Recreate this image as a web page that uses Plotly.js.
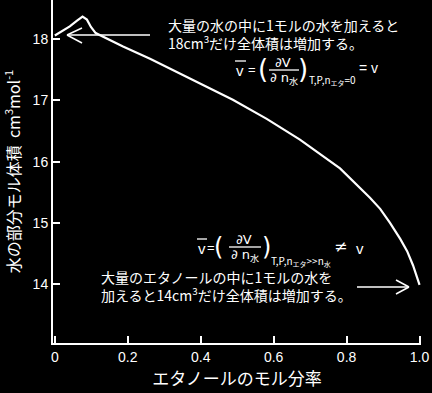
<!DOCTYPE html>
<html>
<head>
<meta charset="utf-8">
<script src="https://cdn.plot.ly/plotly-3.0.1.min.js"></script>
<style>html,body{margin:0;padding:0;background:#000;}#chart{width:432px;height:393px;}</style>
</head>
<body>
<div id="chart"></div>
<script>
// Data
const ethanolFraction = [0, 0.019, 0.041, 0.060, 0.076, 0.088, 0.099, 0.112, 0.187, 0.261, 0.329, 0.398, 0.453, 0.488, 0.581, 0.672, 0.782, 0.837, 0.864, 0.892, 0.919, 0.947, 0.966, 0.982, 0.992, 1.0];
const waterPartialVolume = [18.06, 18.13, 18.21, 18.30, 18.37, 18.32, 18.20, 18.10, 17.88, 17.68, 17.48, 17.28, 17.12, 17.01, 16.70, 16.36, 15.89, 15.57, 15.41, 15.23, 15.00, 14.74, 14.54, 14.31, 14.15, 13.99];
const xTickVals = [0, 0.2, 0.4, 0.6, 0.8, 1.0];
const xTickText = ["0", "0.2", "0.4", "0.6", "0.8", "1.0"];
const yTickVals = [14, 15, 16, 17, 18];
const yTickText = ["14", "15", "16", "17", "18"];

const L = 53, R = 421, T = 0, B = 343, W = 432, H = 393;
const px = (x) => (x - L) / (R - L);
const py = (y) => (B - y) / (B - T);

const JP = '"Noto Sans CJK JP", "Liberation Sans", sans-serif';
const SANS = '"Liberation Sans", Arial, sans-serif';
const MATH = '"DejaVu Sans", "Noto Sans CJK JP", sans-serif';

function txt(x, y, text, size, xanchor, font) {
  return {xref: 'paper', yref: 'paper', x: px(x), y: py(y), text: text, showarrow: false,
    xanchor: xanchor || 'center', yanchor: 'middle', align: 'left',
    font: {family: font || SANS, size: size, color: '#fff'}};
}
function seg(x0, y0, x1, y1, w) {
  return {type: 'line', xref: 'paper', yref: 'paper', x0: px(x0), y0: py(y0), x1: px(x1), y1: py(y1),
    line: {color: '#fff', width: w || 1.5}};
}

const annotations = [
  txt(166, 34, '大量の水の中に1モルの水を加えると<br>18cm<sup>3</sup>だけ全体積は増加する。', 14, 'left', JP),
  txt(99, 286, '大量のエタノールの中に1モルの水を<br>加えると14cm<sup>3</sup>だけ全体積は増加する。', 14, 'left', JP),
  // formula 1
  txt(240, 70, 'v', 15),
  txt(252, 69, '=', 13),
  txt(263, 69, '(', 26, 'center', MATH),
  txt(283, 62, '∂V', 13, 'center', MATH),
  txt(284, 78, '∂ n<sub>水</sub>', 13, 'center', MATH),
  txt(303, 69, ')', 26, 'center', MATH),
  txt(307, 80, 'T,P,n<sub>エタ</sub>=0', 10, 'left', JP),
  txt(357, 68, '= v', 14, 'left'),
  // formula 2
  txt(202, 248, 'v', 15),
  txt(211, 247, '=', 13),
  txt(218, 247, '(', 24, 'center', MATH),
  txt(244, 239, '∂V', 13, 'center', MATH),
  txt(245, 255, '∂ n<sub>水</sub>', 13, 'center', MATH),
  txt(266, 247, ')', 24, 'center', MATH),
  txt(269, 261, 'T,P,n<sub>エタ</sub>>>n<sub>水</sub>', 10, 'left', JP),
  txt(340, 246, '≠', 16, 'center', MATH),
  txt(360, 248, 'v', 15)
];

const shapes = [
  // arrow 1
  seg(150, 35, 67, 35), seg(67, 35, 82, 28), seg(67, 35, 82, 43),
  // arrow 2
  seg(357, 287, 409, 287), seg(409, 287, 396, 280), seg(409, 287, 396, 294),
  // overlines and fraction bars
  seg(235, 61, 246, 61, 1.3), seg(269, 70, 299, 70, 1.3),
  seg(197, 239, 207, 239, 1.3), seg(229, 247, 261, 247, 1.3)
];

const data = [{
  x: ethanolFraction, y: waterPartialVolume, type: 'scatter', mode: 'lines',
  line: {color: '#fff', width: 2.2}, hoverinfo: 'skip'
}];

const axisCommon = {
  showgrid: false, zeroline: false, showline: true, linecolor: '#fff', linewidth: 2,
  ticks: 'inside', tickcolor: '#fff', tickwidth: 2, ticklen: 7,
  tickfont: {family: SANS, size: 14, color: '#fff'}, mirror: false
};

const layout = {
  width: W, height: H, paper_bgcolor: '#000', plot_bgcolor: '#000',
  margin: {l: L, r: W - R, t: T, b: H - B, pad: 0},
  showlegend: false,
  xaxis: Object.assign({}, axisCommon, {
    range: [-0.005, 1.004], tickmode: 'array', tickvals: xTickVals, ticktext: xTickText,
    title: {text: 'エタノールのモル分率', font: {family: JP, size: 17, color: '#fff'}, standoff: 8}
  }),
  yaxis: Object.assign({}, axisCommon, {
    range: [13.04, 18.64], tickmode: 'array', tickvals: yTickVals, ticktext: yTickText,
    title: {text: '水の部分モル体積  cm<sup>3</sup>mol<sup>-1</sup>', font: {family: JP, size: 16, color: '#fff'}, standoff: 10}
  }),
  annotations: annotations, shapes: shapes
};

Plotly.newPlot('chart', data, layout, {staticPlot: true, displayModeBar: false});
</script>
</body>
</html>
